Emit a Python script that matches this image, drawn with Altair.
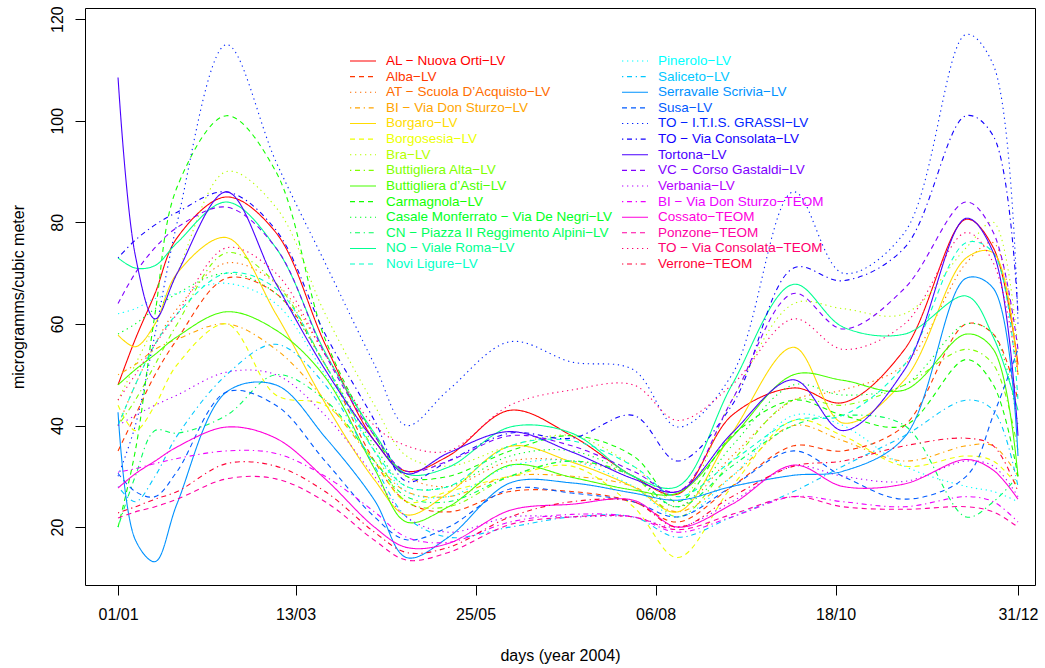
import colorsys

import altair as alt
import pandas as pd

# Day-of-year knots (2004) at which each smoothed station curve is sampled
days = [1, 8, 16, 25, 45, 65, 85, 105, 118, 135, 160, 185, 210, 228, 250, 275, 295, 320, 345, 356, 366]

# Smoothed PM10 concentration curves, microgramms/cubic meter
al_nuova_orti = [48, 57, 66, 77, 85, 78, 56, 37, 31, 34, 43, 38, 30, 26.5, 42, 47.4, 44.5, 55, 80.6, 75, 52]
alba = [35, 42, 50, 57, 69, 66, 52, 33, 25, 23, 27, 27, 25, 21, 28, 36, 35, 40, 60, 58, 45]
at_acquisto = [40, 48, 56, 63, 72, 68, 54, 38, 30, 28, 33, 33, 30, 24, 34, 45, 47, 52, 72, 76, 50]
bi_sturzo_lv = [50, 52, 55, 57, 60, 55, 45, 33, 27, 26, 30, 30, 28, 23, 30, 40, 37, 33, 36, 36, 30]
borgaro = [57.8, 55.5, 60, 70, 77, 62, 44.4, 29.3, 22.4, 26.7, 35.9, 32.8, 27.9, 23, 38.5, 55.4, 40.5, 49, 73, 74, 50]
borgosesia = [44, 39, 44, 52, 60, 46, 44, 33, 25, 27, 30, 32, 24, 14, 28, 41, 38, 32, 34, 33, 28]
bra = [45, 52, 60, 70, 90, 83, 62, 44, 34, 32, 36, 38, 32, 25, 45, 64, 63, 62, 75, 80, 55]
buttigliera_alta = [40, 45, 52, 60, 74, 68, 52, 35, 25, 24, 30, 33, 30, 22, 33, 45, 44, 48, 55, 52, 35]
buttigliera_asti = [48, 51, 54, 57.5, 62.4, 58.8, 49.5, 31.5, 21, 24, 32.2, 29.8, 27.3, 26.7, 37.7, 50, 48.9, 47, 58, 55, 30]
carmagnola = [20, 35, 62, 87, 101, 90, 57, 38, 30, 30, 35, 38, 34, 25, 38, 45, 42, 40, 53, 48, 30]
casale = [58, 60, 63, 66, 70, 66, 52, 36, 28, 28, 34, 35, 30, 24, 36, 48, 46, 48, 60, 58, 40]
cn_alpini = [20, 30, 39, 38.5, 42, 50, 45, 33, 26, 25, 30, 33, 30, 24, 32, 40, 42, 40, 22, 25, 30]
no_roma = [73, 71, 71.5, 76, 84, 75, 54.4, 38.5, 30.5, 31.8, 39.7, 38.5, 30, 28, 48, 67.8, 59.4, 58, 65.5, 57.4, 43]
novi_ligure = [40, 48, 56, 62, 70, 67, 52, 35, 28, 28, 36, 37, 32, 26, 33, 41, 42, 52, 76, 74, 45]
pinerolo = [62, 63, 65, 66, 68, 64, 50, 35, 27, 26, 32, 33, 28, 22, 30, 42, 40, 32, 28, 27, 25]
saliceto = [28, 25, 30, 38, 50, 56, 48, 32, 22, 18, 20, 22, 22, 18, 22, 27, 32, 38, 45, 43, 28]
serravalle = [42.6, 17.5, 13.2, 24.7, 46.6, 48, 37.7, 25.3, 14, 18, 28.7, 28.7, 26.7, 25.3, 28, 30.2, 31, 37.7, 69, 67, 34]
susa = [30.6, 27, 26, 31, 46.6, 44, 33, 22, 17.5, 20, 27.5, 26.7, 25, 22, 28, 35, 30, 25.5, 30, 42, 55]
to_itis = [30, 40, 58, 80, 115, 92, 72, 52, 40, 47, 56.5, 52.5, 51, 39.7, 50, 86, 70, 78, 117, 111, 60]
to_consolata_lv = [73, 76.5, 79.5, 82, 86, 78.5, 58, 41, 29, 33, 38.5, 37.5, 42, 33, 44, 71, 68.5, 75, 101, 97, 62]
tortona = [108.5, 73.5, 61, 70, 86, 68, 51, 37, 30.5, 34.6, 38.8, 34.8, 29.5, 27, 38.5, 49, 39, 51, 80.8, 74, 38]
vc_gastaldi = [64, 70, 75, 79, 83, 75, 54, 38, 31, 33, 38, 36, 31, 27, 45, 66, 59, 67, 84, 78, 55]
verbania = [40, 42, 44, 46, 50.5, 50, 42, 30, 22, 19, 22, 22, 22, 20, 25, 32, 30, 29, 33, 32, 26]
bi_sturzo_teom = [30.8, 31.5, 32.5, 33.5, 35, 34.5, 30, 23, 18, 17, 21, 22.5, 22, 19, 22, 26, 25, 24, 26, 25, 21]
cossato = [27.7, 30.5, 33, 35.8, 39.7, 37.5, 29.5, 20, 16, 16.8, 23.3, 24.5, 25.3, 20, 24.5, 32.2, 28, 28.5, 33.3, 31.2, 25.5]
ponzone = [21.8, 23, 24, 25.5, 29.5, 29.5, 25, 17.4, 13.5, 15, 20.5, 22, 22, 19.5, 22.5, 26, 24, 23.5, 24, 23, 20]
to_consolata_teom = [45, 50, 56, 62, 75, 70, 54, 40, 36, 35, 44, 47, 48, 41, 48, 61, 55, 60, 78, 72, 50]
verrone = [22.8, 24, 25.5, 27, 32.5, 32, 27, 19, 15, 16, 22, 25, 25, 20, 26, 32, 33, 36, 37.5, 36, 27]

stations = [
    ("AL \u2212 Nuova Orti\u2212LV", al_nuova_orti),
    ("Alba\u2212LV", alba),
    ("AT \u2212 Scuola D\u2019Acquisto\u2212LV", at_acquisto),
    ("BI \u2212 Via Don Sturzo\u2212LV", bi_sturzo_lv),
    ("Borgaro\u2212LV", borgaro),
    ("Borgosesia\u2212LV", borgosesia),
    ("Bra\u2212LV", bra),
    ("Buttigliera Alta\u2212LV", buttigliera_alta),
    ("Buttigliera d\u2019Asti\u2212LV", buttigliera_asti),
    ("Carmagnola\u2212LV", carmagnola),
    ("Casale Monferrato \u2212 Via De Negri\u2212LV", casale),
    ("CN \u2212 Piazza II Reggimento Alpini\u2212LV", cn_alpini),
    ("NO \u2212 Viale Roma\u2212LV", no_roma),
    ("Novi Ligure\u2212LV", novi_ligure),
    ("Pinerolo\u2212LV", pinerolo),
    ("Saliceto\u2212LV", saliceto),
    ("Serravalle Scrivia\u2212LV", serravalle),
    ("Susa\u2212LV", susa),
    ("TO \u2212 I.T.I.S. GRASSI\u2212LV", to_itis),
    ("TO \u2212 Via Consolata\u2212LV", to_consolata_lv),
    ("Tortona\u2212LV", tortona),
    ("VC \u2212 Corso Gastaldi\u2212LV", vc_gastaldi),
    ("Verbania\u2212LV", verbania),
    ("BI \u2212 Via Don Sturzo\u2212TEOM", bi_sturzo_teom),
    ("Cossato\u2212TEOM", cossato),
    ("Ponzone\u2212TEOM", ponzone),
    ("TO \u2212 Via Consolata\u2212TEOM", to_consolata_teom),
    ("Verrone\u2212TEOM", verrone),
]

tick_days = [1, 73, 146, 219, 292, 366]
tick_labels = ["01/01", "13/03", "25/05", "06/08", "18/10", "31/12"]

rows = []
for order, (name, values) in enumerate(stations):
    for d, v in zip(days, values):
        rows.append({"station": name, "order": order, "day": d, "value": v})
df = pd.DataFrame(rows)

names = [s[0] for s in stations]
legend_df = pd.DataFrame({"station": names, "idx": list(range(len(names)))})

# rainbow palette and the solid / dashed / dotted / dot-dash cycle
n = len(stations)
palette = []
for i in range(n):
    r, g, b = colorsys.hsv_to_rgb(i / n, 1.0, 1.0)
    palette.append("#%02x%02x%02x" % (round(r * 255), round(g * 255), round(b * 255)))
dash_cycle = [[1, 0], [5, 4], [1.3, 3.7], [1.3, 3.7, 5, 3.7]]
dashes = [dash_cycle[i % 4] for i in range(n)]

label_expr = " : ".join(
    f"datum.value == {d} ? '{lab}'" for d, lab in zip(tick_days, tick_labels)
) + " : ''"

font = "Liberation Sans"

color = alt.Color("station:N", scale=alt.Scale(domain=names, range=palette), legend=None)
dash = alt.StrokeDash("station:N", scale=alt.Scale(domain=names, range=dashes), legend=None)

lines = (
    alt.Chart(df)
    .mark_line(interpolate="catmull-rom", strokeWidth=1.1)
    .encode(
        x=alt.X(
            "day:Q",
            scale=alt.Scale(domain=[-12.4, 372.9], nice=False, zero=False),
            axis=alt.Axis(
                values=tick_days,
                labelExpr=label_expr,
                title="days (year 2004)",
                titleY=70,
                titleBaseline="middle",
                labelPadding=11,
            ),
        ),
        y=alt.Y(
            "value:Q",
            scale=alt.Scale(domain=[8.6, 122.2], nice=False, zero=False),
            axis=alt.Axis(
                values=[20, 40, 60, 80, 100, 120],
                title="microgramms/cubic meter",
                labelAngle=270,
                labelAlign="center",
                labelBaseline="alphabetic",
                labelPadding=13,
                titleX=-67,
                titleBaseline="middle",
            ),
        ),
        color=color,
        strokeDash=dash,
        order=alt.Order("order:Q"),
    )
)

# two-column key without a frame, 14 stations per column
key_base = alt.Chart(legend_df).transform_calculate(
    col="floor(datum.idx / 14)",
    row="datum.idx % 14",
).transform_calculate(
    x0="265 + datum.col * 272",
    x1="291 + datum.col * 272",
    tx="301 + datum.col * 272",
    ky="53 + datum.row * 15.62",
)

key_lines = key_base.mark_rule(strokeWidth=1.1).encode(
    x=alt.X("x0:Q", scale=None),
    x2="x1:Q",
    y=alt.Y("ky:Q", scale=None),
    color=color,
    strokeDash=dash,
)

key_text = key_base.mark_text(
    align="left", baseline="middle", font=font, fontSize=13.5
).encode(
    x=alt.X("tx:Q", scale=None),
    y=alt.Y("ky:Q", scale=None),
    text="station:N",
    color=color,
)

chart = (
    alt.layer(lines, key_lines, key_text)
    .properties(
        width=950,
        height=577,
        autosize="none",
        padding={"left": 85, "top": 8, "right": 10, "bottom": 83},
        background="white",
    )
    .configure_view(stroke="black", strokeWidth=1)
    .configure_axis(
        grid=False,
        domain=False,
        ticks=True,
        tickSize=10,
        tickColor="black",
        tickWidth=1,
        labelFont=font,
        labelFontSize=16,
        labelColor="black",
        labelOverlap=False,
        labelFlush=False,
        titleFont=font,
        titleFontSize=16,
        titleFontWeight="normal",
        titleColor="black",
    )
)

chart.save("out.html", embed_options={"renderer": "svg", "actions": False})
